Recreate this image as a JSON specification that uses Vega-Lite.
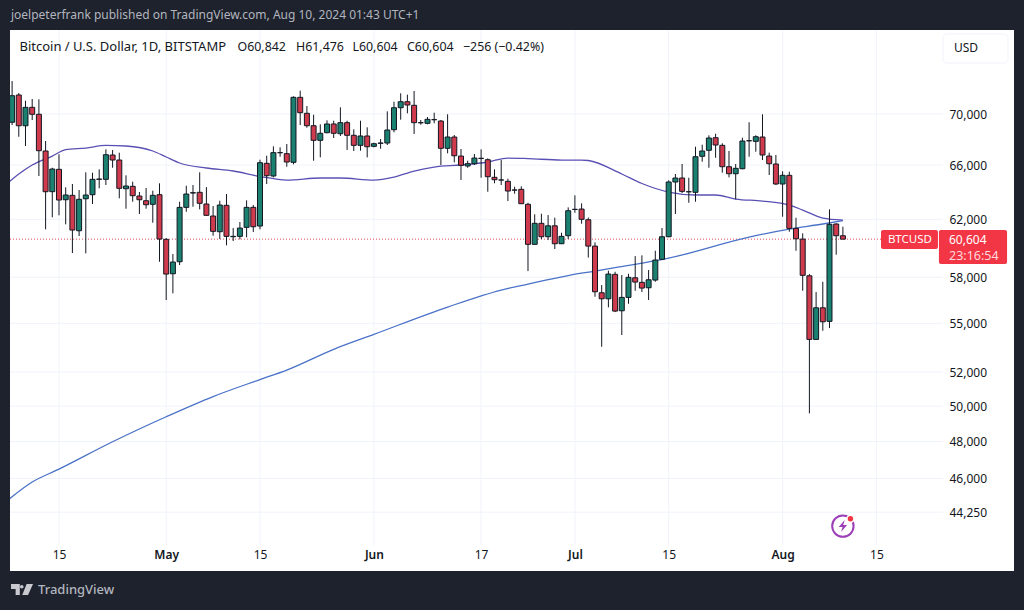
{"$schema":"https://vega.github.io/schema/vega-lite/v6.json",
"width":1004,"height":541,"autosize":"none","padding":{"left":10,"top":30,"right":10,"bottom":39},
"background":"#1e222d",
"title":{"text":"joelpeterfrank published on TradingView.com, Aug 10, 2024 01:43 UTC+1","anchor":"start","frame":"group","offset":8,"dx":1,"color":"#b2b5be","fontSize":12,"fontWeight":"normal","font":"Noto Sans"},
"config":{"view":{"fill":"#ffffff","stroke":null},"font":"Noto Sans"},
"datasets":{
"gridh":[{"price":70000,"date":"2024-04-07T16:30:00Z","date2":"2024-08-24T22:30:00Z"},{"price":66000,"date":"2024-04-07T16:30:00Z","date2":"2024-08-24T22:30:00Z"},{"price":62000,"date":"2024-04-07T16:30:00Z","date2":"2024-08-24T22:30:00Z"},{"price":58000,"date":"2024-04-07T16:30:00Z","date2":"2024-08-24T22:30:00Z"},{"price":55000,"date":"2024-04-07T16:30:00Z","date2":"2024-08-24T22:30:00Z"},{"price":52000,"date":"2024-04-07T16:30:00Z","date2":"2024-08-24T22:30:00Z"},{"price":50000,"date":"2024-04-07T16:30:00Z","date2":"2024-08-24T22:30:00Z"},{"price":48000,"date":"2024-04-07T16:30:00Z","date2":"2024-08-24T22:30:00Z"},{"price":46000,"date":"2024-04-07T16:30:00Z","date2":"2024-08-24T22:30:00Z"},{"price":44250,"date":"2024-04-07T16:30:00Z","date2":"2024-08-24T22:30:00Z"}],
"gridv":[{"date":"2024-04-15","price":77100,"price2":42600},{"date":"2024-05-01","price":77100,"price2":42600},{"date":"2024-05-15","price":77100,"price2":42600},{"date":"2024-06-01","price":77100,"price2":42600},{"date":"2024-06-17","price":77100,"price2":42600},{"date":"2024-07-01","price":77100,"price2":42600},{"date":"2024-07-15","price":77100,"price2":42600},{"date":"2024-08-01","price":77100,"price2":42600},{"date":"2024-08-15","price":77100,"price2":42600}],
"last":[{"date":"2024-04-07T16:30:00Z","date2":"2024-08-15T16:30:00Z","price":60604}],
"ma50":[{"date":"2024-04-07","price":64504},{"date":"2024-04-09","price":65326},{"date":"2024-04-11","price":66007},{"date":"2024-04-14","price":66691},{"date":"2024-04-16","price":67195},{"date":"2024-04-19","price":67311},{"date":"2024-04-22","price":67520},{"date":"2024-04-25","price":67467},{"date":"2024-04-29","price":67080},{"date":"2024-05-01","price":66620},{"date":"2024-05-03","price":66160},{"date":"2024-05-07","price":65780},{"date":"2024-05-11","price":65552},{"date":"2024-05-15","price":65140},{"date":"2024-05-19","price":64875},{"date":"2024-05-24","price":65025},{"date":"2024-05-27","price":65025},{"date":"2024-06-01","price":64875},{"date":"2024-06-04","price":65100},{"date":"2024-06-07","price":65552},{"date":"2024-06-10","price":65853},{"date":"2024-06-14","price":66007},{"date":"2024-06-18","price":66235},{"date":"2024-06-21","price":66539},{"date":"2024-06-24","price":66500},{"date":"2024-06-29","price":66387},{"date":"2024-07-02","price":66387},{"date":"2024-07-03","price":66350},{"date":"2024-07-08","price":65326},{"date":"2024-07-11","price":64615},{"date":"2024-07-15","price":63985},{"date":"2024-07-19","price":63765},{"date":"2024-07-22","price":63765},{"date":"2024-07-25","price":63471},{"date":"2024-07-29","price":63325},{"date":"2024-08-02","price":63034},{"date":"2024-08-04","price":62670},{"date":"2024-08-07","price":62095},{"date":"2024-08-10","price":61953}],
"ma200":[{"date":"2024-04-07","price":44765},{"date":"2024-04-11","price":45815},{"date":"2024-04-15","price":46500},{"date":"2024-04-23","price":47990},{"date":"2024-05-01","price":49392},{"date":"2024-05-08","price":50554},{"date":"2024-05-15","price":51555},{"date":"2024-05-19","price":52122},{"date":"2024-05-26","price":53382},{"date":"2024-06-01","price":54308},{"date":"2024-06-12","price":56044},{"date":"2024-06-20","price":57152},{"date":"2024-06-24","price":57550},{"date":"2024-06-30","price":58116},{"date":"2024-07-04","price":58417},{"date":"2024-07-07","price":58650},{"date":"2024-07-15","price":59297},{"date":"2024-07-27","price":60749},{"date":"2024-08-02","price":61313},{"date":"2024-08-07","price":61670},{"date":"2024-08-10","price":61917}],
"candles":[
{"date":"2024-04-08","open":69340,"high":72710,"low":69120,"close":71490},
{"date":"2024-04-09","open":71550,"high":71715,"low":68190,"close":69060},
{"date":"2024-04-10","open":69060,"high":71080,"low":67470,"close":70540},
{"date":"2024-04-11","open":70540,"high":71220,"low":69518,"close":69980},
{"date":"2024-04-12","open":69980,"high":71195,"low":65176,"close":67103},
{"date":"2024-04-13","open":67080,"high":67856,"low":61293,"close":64007},
{"date":"2024-04-14","open":64010,"high":65800,"low":62147,"close":65703},
{"date":"2024-04-15","open":65680,"high":66826,"low":62290,"close":63398},
{"date":"2024-04-16","open":63420,"high":64333,"low":61648,"close":63765},
{"date":"2024-04-17","open":63740,"high":64578,"low":59642,"close":61243},
{"date":"2024-04-18","open":61194,"high":64132,"low":60822,"close":63450},
{"date":"2024-04-19","open":63490,"high":65454,"low":59622,"close":63765},
{"date":"2024-04-20","open":63787,"high":65424,"low":63107,"close":64927},
{"date":"2024-04-21","open":64950,"high":65680,"low":64258,"close":64927},
{"date":"2024-04-22","open":64927,"high":67211,"low":64504,"close":66795},
{"date":"2024-04-23","open":66772,"high":67157,"low":65800,"close":66387},
{"date":"2024-04-24","open":66387,"high":66949,"low":63522,"close":64258},
{"date":"2024-04-25","open":64228,"high":65228,"low":62765,"close":64429},
{"date":"2024-04-26","open":64407,"high":64749,"low":63274,"close":63713},
{"date":"2024-04-27","open":63691,"high":63985,"low":62383,"close":63420},
{"date":"2024-04-28","open":63347,"high":64280,"low":62765,"close":63056},
{"date":"2024-04-29","open":63085,"high":64080,"low":61761,"close":63742},
{"date":"2024-04-30","open":63787,"high":64630,"low":59047,"close":60611},
{"date":"2024-05-01","open":60590,"high":60681,"low":56497,"close":58216},
{"date":"2024-05-02","open":58236,"high":59574,"low":56936,"close":59026},
{"date":"2024-05-03","open":59047,"high":63274,"low":58823,"close":62864},
{"date":"2024-05-04","open":62864,"high":64450,"low":62549,"close":63838},
{"date":"2024-05-05","open":63912,"high":64504,"low":62907,"close":63934},
{"date":"2024-05-06","open":63963,"high":65454,"low":62720,"close":63158},
{"date":"2024-05-07","open":63107,"high":64352,"low":62261,"close":62290},
{"date":"2024-05-08","open":62240,"high":62961,"low":60843,"close":61152},
{"date":"2024-05-09","open":61124,"high":63347,"low":60611,"close":63034},
{"date":"2024-05-10","open":63012,"high":63838,"low":60174,"close":60800},
{"date":"2024-05-11","open":60772,"high":61384,"low":60472,"close":60800},
{"date":"2024-05-12","open":60800,"high":61811,"low":60590,"close":61384},
{"date":"2024-05-13","open":61433,"high":63376,"low":60730,"close":62864},
{"date":"2024-05-14","open":62864,"high":63034,"low":61103,"close":61477},
{"date":"2024-05-15","open":61527,"high":66410,"low":61293,"close":66182},
{"date":"2024-05-16","open":66136,"high":66714,"low":64578,"close":65199},
{"date":"2024-05-17","open":65176,"high":67440,"low":65078,"close":66952},
{"date":"2024-05-18","open":66952,"high":67365,"low":66641,"close":66952},
{"date":"2024-05-19","open":66875,"high":67622,"low":65878,"close":66235},
{"date":"2024-05-20","open":66212,"high":71440,"low":66060,"close":71358},
{"date":"2024-05-21","open":71358,"high":71905,"low":69120,"close":70106},
{"date":"2024-05-22","open":70057,"high":70645,"low":68903,"close":69064},
{"date":"2024-05-23","open":69064,"high":69940,"low":66334,"close":67911},
{"date":"2024-05-24","open":67911,"high":69176,"low":66592,"close":68462},
{"date":"2024-05-25","open":68510,"high":69494,"low":68462,"close":69200},
{"date":"2024-05-26","open":69200,"high":69462,"low":68092,"close":68462},
{"date":"2024-05-27","open":68430,"high":70540,"low":68250,"close":69305},
{"date":"2024-05-28","open":69305,"high":69462,"low":67157,"close":68304},
{"date":"2024-05-29","open":68304,"high":68777,"low":67080,"close":67520},
{"date":"2024-05-30","open":67520,"high":69462,"low":67103,"close":68250},
{"date":"2024-05-31","open":68250,"high":68935,"low":66592,"close":67411},
{"date":"2024-06-01","open":67442,"high":67724,"low":67365,"close":67645},
{"date":"2024-06-02","open":67677,"high":68012,"low":67257,"close":67700},
{"date":"2024-06-03","open":67700,"high":70218,"low":67545,"close":68722},
{"date":"2024-06-04","open":68746,"high":70999,"low":68541,"close":70508},
{"date":"2024-06-05","open":70508,"high":71690,"low":69542,"close":70999},
{"date":"2024-06-06","open":70999,"high":71575,"low":70057,"close":70730},
{"date":"2024-06-07","open":70706,"high":71880,"low":68407,"close":69305},
{"date":"2024-06-08","open":69305,"high":69518,"low":69144,"close":69300},
{"date":"2024-06-09","open":69255,"high":69760,"low":69176,"close":69574},
{"date":"2024-06-10","open":69542,"high":70106,"low":69255,"close":69550},
{"date":"2024-06-11","open":69438,"high":69518,"low":66007,"close":67290},
{"date":"2024-06-12","open":67290,"high":69977,"low":66900,"close":68170},
{"date":"2024-06-13","open":68170,"high":68328,"low":66212,"close":66714},
{"date":"2024-06-14","open":66691,"high":67234,"low":64875,"close":65980},
{"date":"2024-06-15","open":65931,"high":66334,"low":65800,"close":66106},
{"date":"2024-06-16","open":66106,"high":66849,"low":66007,"close":66539},
{"date":"2024-06-17","open":66516,"high":67211,"low":65048,"close":66510},
{"date":"2024-06-18","open":66410,"high":66516,"low":64007,"close":65123},
{"date":"2024-06-19","open":65078,"high":65680,"low":64630,"close":64897},
{"date":"2024-06-20","open":64875,"high":66387,"low":64504,"close":64880},
{"date":"2024-06-21","open":64778,"high":64972,"low":63325,"close":64058},
{"date":"2024-06-22","open":64132,"high":64374,"low":63860,"close":64130},
{"date":"2024-06-23","open":64183,"high":64407,"low":63107,"close":63129},
{"date":"2024-06-24","open":63085,"high":63201,"low":58417,"close":60243},
{"date":"2024-06-25","open":60243,"high":62362,"low":60215,"close":61719},
{"date":"2024-06-26","open":61719,"high":62405,"low":60611,"close":60772},
{"date":"2024-06-27","open":60772,"high":62312,"low":60541,"close":61543},
{"date":"2024-06-28","open":61543,"high":62118,"low":59917,"close":60285},
{"date":"2024-06-29","open":60285,"high":61053,"low":60264,"close":60800},
{"date":"2024-06-30","open":60845,"high":62864,"low":60611,"close":62620},
{"date":"2024-07-01","open":62720,"high":63742,"low":62476,"close":62715},
{"date":"2024-07-02","open":62742,"high":63158,"low":61690,"close":62003},
{"date":"2024-07-03","open":61974,"high":62130,"low":59330,"close":60122},
{"date":"2024-07-04","open":60122,"high":60382,"low":56713,"close":57040},
{"date":"2024-07-05","open":56975,"high":57483,"low":53537,"close":56581},
{"date":"2024-07-06","open":56581,"high":58437,"low":56025,"close":58216},
{"date":"2024-07-07","open":58196,"high":58370,"low":55722,"close":55786},
{"date":"2024-07-08","open":55805,"high":58149,"low":54268,"close":56672},
{"date":"2024-07-09","open":56672,"high":58236,"low":56257,"close":57995},
{"date":"2024-07-10","open":57968,"high":59433,"low":57106,"close":57682},
{"date":"2024-07-11","open":57662,"high":59484,"low":57021,"close":57284},
{"date":"2024-07-12","open":57304,"high":58484,"low":56497,"close":57834},
{"date":"2024-07-13","open":57814,"high":59800,"low":57701,"close":59162},
{"date":"2024-07-14","open":59210,"high":61384,"low":59162,"close":60772},
{"date":"2024-07-15","open":60772,"high":64853,"low":60749,"close":64727},
{"date":"2024-07-16","open":64727,"high":65326,"low":62383,"close":65025},
{"date":"2024-07-17","open":65025,"high":66083,"low":63912,"close":64036},
{"date":"2024-07-18","open":64007,"high":65048,"low":63201,"close":64000},
{"date":"2024-07-19","open":63963,"high":67411,"low":63274,"close":66641},
{"date":"2024-07-20","open":66672,"high":67568,"low":66258,"close":67080},
{"date":"2024-07-21","open":67134,"high":68304,"low":65800,"close":68092},
{"date":"2024-07-22","open":68116,"high":68430,"low":66562,"close":67545},
{"date":"2024-07-23","open":67520,"high":67677,"low":65424,"close":65878},
{"date":"2024-07-24","open":65878,"high":67080,"low":65078,"close":65348},
{"date":"2024-07-25","open":65348,"high":66083,"low":63449,"close":65755},
{"date":"2024-07-26","open":65726,"high":68115,"low":65680,"close":67856},
{"date":"2024-07-27","open":67880,"high":69336,"low":66641,"close":67875},
{"date":"2024-07-28","open":67832,"high":68304,"low":67026,"close":68194},
{"date":"2024-07-29","open":68170,"high":69977,"low":66387,"close":66772},
{"date":"2024-07-30","open":66691,"high":66952,"low":65251,"close":66106},
{"date":"2024-07-31","open":66083,"high":66772,"low":64504,"close":64578},
{"date":"2024-08-01","open":64578,"high":65529,"low":62190,"close":65228},
{"date":"2024-08-02","open":65228,"high":65500,"low":61124,"close":61362},
{"date":"2024-08-03","open":61362,"high":62118,"low":59800,"close":60631},
{"date":"2024-08-04","open":60611,"high":61011,"low":57106,"close":58129},
{"date":"2024-08-05","open":58100,"high":58216,"low":49584,"close":53994},
{"date":"2024-08-06","open":53994,"high":57021,"low":53980,"close":55998},
{"date":"2024-08-07","open":55998,"high":57701,"low":54533,"close":55102},
{"date":"2024-08-08","open":55128,"high":62720,"low":54703,"close":61648},
{"date":"2024-08-09","open":61670,"high":61719,"low":59526,"close":60843},
{"date":"2024-08-10","open":60842,"high":61476,"low":60604,"close":60604}],
"legend":[{"date":"2024-05-11T15:30:00Z","price":75618,"label":"O60,842"},{"date":"2024-05-20T09:00:00Z","price":75618,"label":"H61,476"},{"date":"2024-05-28T19:00:00Z","price":75618,"label":"L60,604"},{"date":"2024-06-05T22:30:00Z","price":75618,"label":"C60,604"},{"date":"2024-06-14T07:00:00Z","price":75618,"label":"−256 (−0.42%)"}],
"tags":[{"date":"2024-08-15T16:30:00Z","date2":"2024-08-24T04:30:00Z","price":61243,"price2":59917},{"date":"2024-08-24T08:00:00Z","date2":"2024-09-03T12:00:00Z","price":61243,"price2":58890}],
"usdbox":[{"date":"2024-08-24T22:30:00Z","date2":"2024-09-03T15:30:00Z","price":76757,"price2":74236}]
},
"encoding":{
"x":{"field":"date","type":"temporal","title":null,"scale":{"type":"utc","domain":[1712507400000,1725454440000],"nice":false,"padding":0},"axis":{"orient":"bottom","offset":-26,"values":[1713139200000,1714521600000,1715731200000,1717200000000,1718582400000,1719792000000,1721001600000,1722470400000,1723680000000],"labelExpr":"utcdate(datum.value)==1 ? utcFormat(datum.value,'%b') : ''+utcdate(datum.value)","labelFontWeight":{"condition":{"test":"utcdate(datum.value)==1","value":600},"value":400},"grid":false,"domain":false,"ticks":false,"labelPadding":4,"labelColor":"#131722","labelFontSize":12,"labelFont":"Noto Sans","labelOverlap":false,"labelBound":false,"labelFlush":false}},
"y":{"field":"price","type":"quantitative","title":null,"scale":{"type":"log","domain":[41352,77113],"nice":false,"zero":false},"axis":{"orient":"right","offset":-71,"values":[70000,66000,62000,58000,55000,52000,50000,48000,46000,44250],"format":",","grid":false,"domain":false,"ticks":false,"labelPadding":6,"labelColor":"#131722","labelFontSize":12,"labelFont":"Noto Sans","labelOverlap":false,"labelBound":false,"labelFlush":false}}
},
"layer":[
{"data":{"name":"gridh"},"mark":{"type":"rule","color":"#f0f3fa","strokeWidth":1},"encoding":{"x2":{"field":"date2"}}},
{"data":{"name":"gridv"},"mark":{"type":"rule","color":"#f0f3fa","strokeWidth":1},"encoding":{"y2":{"field":"price2"}}},
{"data":{"name":"last"},"mark":{"type":"rule","color":"#e04a58","strokeWidth":1,"strokeDash":[1,2]},"encoding":{"x2":{"field":"date2"}}},
{"data":{"name":"ma200"},"mark":{"type":"line","color":"#4a72c8","strokeWidth":1.3,"interpolate":"monotone","clip":true}},
{"data":{"name":"ma50"},"mark":{"type":"line","color":"#5a50b4","strokeWidth":1.3,"interpolate":"monotone","clip":true}},
{"data":{"name":"candles"},"mark":{"type":"rule","color":"#131722","strokeWidth":1,"clip":true},"encoding":{"y":{"field":"high","type":"quantitative","title":null,"scale":{"type":"log","domain":[41352,77113],"nice":false,"zero":false}},"y2":{"field":"low"}}},
{"data":{"name":"candles"},"mark":{"type":"bar","size":5,"stroke":"#131722","strokeWidth":1,"clip":true},"encoding":{"y":{"field":"open","type":"quantitative","title":null,"scale":{"type":"log","domain":[41352,77113],"nice":false,"zero":false}},"y2":{"field":"close"},"fill":{"condition":{"test":"datum.close<datum.open","value":"#cf3a4c"},"value":"#1a8070"}}},
{"data":{"values":[{"date":"2024-04-09T02:30:00Z","price":75618,"label":"Bitcoin / U.S. Dollar, 1D, BITSTAMP"}]},"mark":{"type":"text","align":"left","baseline":"middle","fontSize":13,"color":"#131722","font":"Noto Sans"},"encoding":{"text":{"field":"label"}}},
{"data":{"name":"legend"},"mark":{"type":"text","align":"left","baseline":"middle","fontSize":12.4,"color":"#131722","font":"Noto Sans"},"encoding":{"text":{"field":"label"}}},
{"data":{"name":"usdbox"},"mark":{"type":"rect","fill":"#ffffff","stroke":"#f0f3fa","strokeWidth":1,"cornerRadius":4},"encoding":{"x2":{"field":"date2"},"y2":{"field":"price2"}}},
{"data":{"values":[{"date":"2024-08-26T14:00:00Z","price":75530,"label":"USD"}]},"mark":{"type":"text","align":"left","baseline":"middle","fontSize":12,"color":"#131722","font":"Noto Sans"},"encoding":{"text":{"field":"label"}}},
{"data":{"name":"tags"},"mark":{"type":"rect","fill":"#f23645","cornerRadius":2},"encoding":{"x2":{"field":"date2"},"y2":{"field":"price2"}}},
{"data":{"values":[{"date":"2024-08-20T00:00:00Z","price":60541,"label":"BTCUSD"}]},"mark":{"type":"text","align":"center","baseline":"middle","fontSize":11.5,"color":"#ffffff","font":"Noto Sans"},"encoding":{"text":{"field":"label"}}},
{"data":{"values":[{"date":"2024-08-25T20:00:00Z","price":60541,"label":"60,604"}]},"mark":{"type":"text","align":"left","baseline":"middle","fontSize":12,"color":"#ffffff","font":"Noto Sans"},"encoding":{"text":{"field":"label"}}},
{"data":{"values":[{"date":"2024-08-25T20:00:00Z","price":59433,"label":"23:16:54"}]},"mark":{"type":"text","align":"left","baseline":"middle","fontSize":12.5,"color":"#ffd9dc","font":"Noto Sans"},"encoding":{"text":{"field":"label"}}},
{"data":{"values":[{"date":"2024-08-10","price":43546}]},"mark":{"type":"point","shape":"circle","size":458,"stroke":"#9c3fb8","strokeWidth":2,"fill":null,"opacity":1}},
{"data":{"values":[{"date":"2024-08-10","price":43546}]},"mark":{"type":"point","shape":"M0.3 -1L-0.7 0.15H-0.05L-0.3 1L0.7 -0.2H0.05Z","size":144,"filled":true,"fill":"#9c3fb8","opacity":1}},
{"data":{"values":[{"date":"2024-08-11T03:00:00Z","price":43917}]},"mark":{"type":"point","shape":"circle","size":70,"filled":true,"fill":"#ffffff","opacity":1}},
{"data":{"values":[{"date":"2024-08-11T03:00:00Z","price":43917}]},"mark":{"type":"point","shape":"circle","size":30,"filled":true,"fill":"#f23645","opacity":1}},
{"data":{"values":[{"date":"2024-04-09T11:30:00Z","price":40475}]},"mark":{"type":"point","shape":"M-1 -0.5H-0.2V0.5H-0.58V-0.05H-1ZM-0.02 -0.42A0.16 0.16 0 1 1 -0.02 -0.1A0.16 0.16 0 1 1 -0.02 -0.42ZM0.42 -0.5H1L0.55 0.5H0.02Z","size":484,"filled":true,"fill":"#c8cad0","opacity":1}},
{"data":{"values":[{"date":"2024-04-11T20:45:00Z","price":40475,"label":"TradingView"}]},"mark":{"type":"text","align":"left","baseline":"middle","fontSize":13,"fontWeight":500,"color":"#b2b5be","font":"Noto Sans"},"encoding":{"text":{"field":"label"}}}
]}
